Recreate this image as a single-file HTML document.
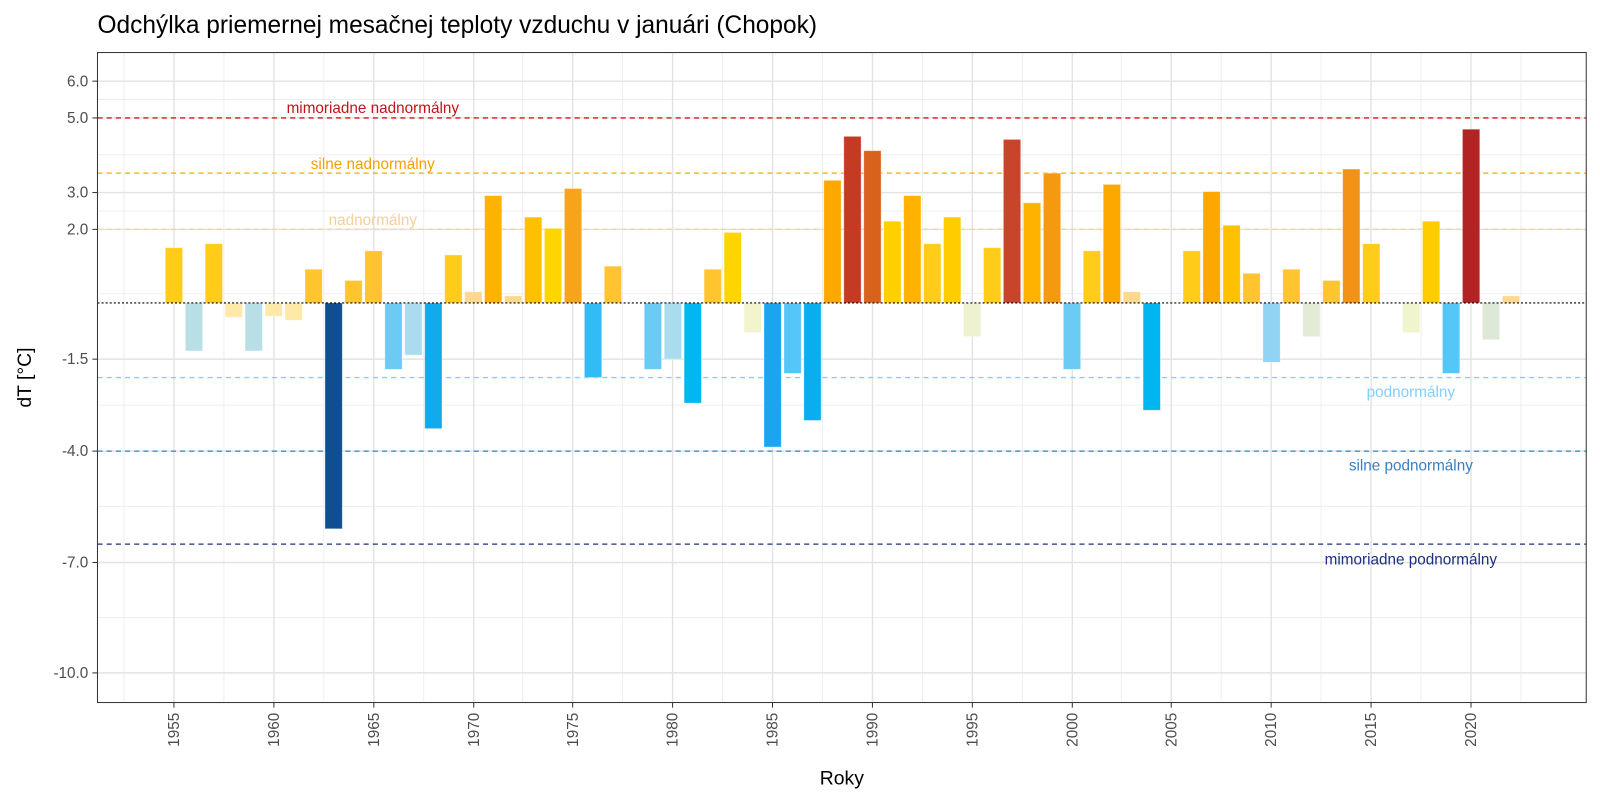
<!DOCTYPE html>
<html><head><meta charset="utf-8"><style>body{margin:0;background:#fff}svg{display:block;font-family:"Liberation Sans",Arial,sans-serif}</style></head>
<body>
<svg width="1600" height="800" xmlns="http://www.w3.org/2000/svg">
<rect width="1600" height="800" fill="#fff"/>
<g transform="matrix(1.0197 0 0 1.022 0.6 -0.6)">
<text x="95" y="33" font-size="24" fill="#000">Odchýlka priemernej mesačnej teploty vzduchu v januári (Chopok)</text>
<g stroke="#ebebeb" stroke-width="0.8">
<line x1="95" x2="1555" y1="98" y2="98"/><line x1="95" x2="1555" y1="152" y2="152"/><line x1="95" x2="1555" y1="207" y2="207"/><line x1="95" x2="1555" y1="288" y2="288"/><line x1="95" x2="1555" y1="397" y2="397"/><line x1="95" x2="1555" y1="496" y2="496"/><line x1="95" x2="1555" y1="605" y2="605"/>
<line y1="52" y2="688" x1="121" x2="121"/><line y1="52" y2="688" x1="219" x2="219"/><line y1="52" y2="688" x1="317" x2="317"/><line y1="52" y2="688" x1="415" x2="415"/><line y1="52" y2="688" x1="512" x2="512"/><line y1="52" y2="688" x1="610" x2="610"/><line y1="52" y2="688" x1="708" x2="708"/><line y1="52" y2="688" x1="806" x2="806"/><line y1="52" y2="688" x1="904" x2="904"/><line y1="52" y2="688" x1="1002" x2="1002"/><line y1="52" y2="688" x1="1099" x2="1099"/><line y1="52" y2="688" x1="1197" x2="1197"/><line y1="52" y2="688" x1="1295" x2="1295"/><line y1="52" y2="688" x1="1393" x2="1393"/><line y1="52" y2="688" x1="1491" x2="1491"/>
</g>
<g stroke="#e3e3e3" stroke-width="1.4">
<line x1="95" x2="1555" y1="80" y2="80"/><line x1="95" x2="1555" y1="116" y2="116"/><line x1="95" x2="1555" y1="189" y2="189"/><line x1="95" x2="1555" y1="225" y2="225"/><line x1="95" x2="1555" y1="352" y2="352"/><line x1="95" x2="1555" y1="442" y2="442"/><line x1="95" x2="1555" y1="551" y2="551"/><line x1="95" x2="1555" y1="659" y2="659"/>
<line y1="52" y2="688" x1="170" x2="170"/><line y1="52" y2="688" x1="268" x2="268"/><line y1="52" y2="688" x1="366" x2="366"/><line y1="52" y2="688" x1="464" x2="464"/><line y1="52" y2="688" x1="561" x2="561"/><line y1="52" y2="688" x1="659" x2="659"/><line y1="52" y2="688" x1="757" x2="757"/><line y1="52" y2="688" x1="855" x2="855"/><line y1="52" y2="688" x1="953" x2="953"/><line y1="52" y2="688" x1="1051" x2="1051"/><line y1="52" y2="688" x1="1148" x2="1148"/><line y1="52" y2="688" x1="1246" x2="1246"/><line y1="52" y2="688" x1="1344" x2="1344"/><line y1="52" y2="688" x1="1442" x2="1442"/>
</g>
<g stroke-width="1.3" stroke-dasharray="5,4" fill="none">
<line x1="95" x2="1555" y1="116" y2="116" stroke="#d7191c"/>
<line x1="95" x2="1555" y1="170" y2="170" stroke="#ffa500"/>
<line x1="95" x2="1555" y1="225" y2="225" stroke="#f8d3a8"/>
<line x1="95" x2="1555" y1="370" y2="370" stroke="#87cefa"/>
<line x1="95" x2="1555" y1="442" y2="442" stroke="#3182bd"/>
<line x1="95" x2="1555" y1="533" y2="533" stroke="#1f2f7f"/>
</g>
<g stroke="#fff" stroke-opacity="0.45" stroke-width="0.8">
<rect x="161.5" y="243" width="17" height="54" fill="#ffcc1a"/>
<rect x="181.1" y="297" width="17" height="47" fill="#b8dfe6"/>
<rect x="200.6" y="239" width="17" height="58" fill="#ffcc1a"/>
<rect x="220.2" y="297" width="17" height="14" fill="#ffe9a8"/>
<rect x="239.8" y="297" width="17" height="47" fill="#b8dfe6"/>
<rect x="259.4" y="297" width="17" height="13" fill="#ffe9a8"/>
<rect x="278.9" y="297" width="17" height="17" fill="#ffe9a8"/>
<rect x="298.5" y="264" width="17" height="33" fill="#ffc430"/>
<rect x="318.1" y="297" width="17" height="221" fill="#0f4f8f"/>
<rect x="337.6" y="275" width="17" height="22" fill="#ffc430"/>
<rect x="357.2" y="246" width="17" height="51" fill="#ffc430"/>
<rect x="376.8" y="297" width="17" height="65" fill="#6ccbf5"/>
<rect x="396.3" y="297" width="17" height="51" fill="#a8dcee"/>
<rect x="415.9" y="297" width="17" height="123" fill="#12aaea"/>
<rect x="435.5" y="250" width="17" height="47" fill="#ffcc1a"/>
<rect x="455.1" y="286" width="17" height="11" fill="#ffd890"/>
<rect x="474.6" y="192" width="17" height="105" fill="#ffb300"/>
<rect x="494.2" y="290" width="17" height="7" fill="#ffd890"/>
<rect x="513.8" y="213" width="17" height="84" fill="#ffc000"/>
<rect x="533.3" y="224" width="17" height="73" fill="#ffd500"/>
<rect x="552.9" y="185" width="17" height="112" fill="#f8a41a"/>
<rect x="572.5" y="297" width="17" height="73" fill="#33bbf5"/>
<rect x="592.0" y="261" width="17" height="36" fill="#ffc430"/>
<rect x="631.2" y="297" width="17" height="65" fill="#6ccbf5"/>
<rect x="650.8" y="297" width="17" height="55" fill="#a8dcee"/>
<rect x="670.3" y="297" width="17" height="98" fill="#00b8f0"/>
<rect x="689.9" y="264" width="17" height="33" fill="#ffc430"/>
<rect x="709.5" y="228" width="17" height="69" fill="#ffd500"/>
<rect x="729.0" y="297" width="17" height="29" fill="#f2f4cc"/>
<rect x="748.6" y="297" width="17" height="141" fill="#1aa5ee"/>
<rect x="768.2" y="297" width="17" height="69" fill="#55c6f8"/>
<rect x="787.7" y="297" width="17" height="115" fill="#0aaeee"/>
<rect x="807.3" y="177" width="17" height="120" fill="#fca800"/>
<rect x="826.9" y="134" width="17" height="163" fill="#c43a22"/>
<rect x="846.5" y="148" width="17" height="149" fill="#d8611c"/>
<rect x="866.0" y="217" width="17" height="80" fill="#ffd000"/>
<rect x="885.6" y="192" width="17" height="105" fill="#ffb300"/>
<rect x="905.2" y="239" width="17" height="58" fill="#ffcc1a"/>
<rect x="924.7" y="213" width="17" height="84" fill="#ffcc00"/>
<rect x="944.3" y="297" width="17" height="33" fill="#eef2cf"/>
<rect x="963.9" y="243" width="17" height="54" fill="#ffcc1a"/>
<rect x="983.4" y="137" width="17" height="160" fill="#c8442a"/>
<rect x="1003.0" y="199" width="17" height="98" fill="#ffb300"/>
<rect x="1022.6" y="170" width="17" height="127" fill="#f59a10"/>
<rect x="1042.2" y="297" width="17" height="65" fill="#6ccbf5"/>
<rect x="1061.7" y="246" width="17" height="51" fill="#ffcc1a"/>
<rect x="1081.3" y="181" width="17" height="116" fill="#fca800"/>
<rect x="1100.9" y="286" width="17" height="11" fill="#ffd890"/>
<rect x="1120.4" y="297" width="17" height="105" fill="#00b5f0"/>
<rect x="1159.6" y="246" width="17" height="51" fill="#ffcc1a"/>
<rect x="1179.1" y="188" width="17" height="109" fill="#fca800"/>
<rect x="1198.7" y="221" width="17" height="76" fill="#ffc000"/>
<rect x="1218.3" y="268" width="17" height="29" fill="#ffc430"/>
<rect x="1237.9" y="297" width="17" height="58" fill="#90d3f2"/>
<rect x="1257.4" y="264" width="17" height="33" fill="#ffc430"/>
<rect x="1277.0" y="297" width="17" height="33" fill="#e1ebd6"/>
<rect x="1296.6" y="275" width="17" height="22" fill="#ffc430"/>
<rect x="1316.1" y="166" width="17" height="131" fill="#f29216"/>
<rect x="1335.7" y="239" width="17" height="58" fill="#ffcc1a"/>
<rect x="1374.8" y="297" width="17" height="29" fill="#f2f4cc"/>
<rect x="1394.4" y="217" width="17" height="80" fill="#ffcc00"/>
<rect x="1414.0" y="297" width="17" height="69" fill="#55c6f8"/>
<rect x="1433.6" y="127" width="17" height="170" fill="#b22424"/>
<rect x="1453.1" y="297" width="17" height="36" fill="#dde9d6"/>
<rect x="1472.7" y="290" width="17" height="7" fill="#ffd890"/>
</g>
<line x1="95" x2="1555" y1="297" y2="297" stroke="#000" stroke-width="1" stroke-dasharray="2,2"/>
<g font-size="15" text-anchor="middle">
<text x="365" y="111" fill="#c0141c">mimoriadne nadnormálny</text>
<text x="365" y="166" fill="#f5a000">silne nadnormálny</text>
<text x="365" y="221" fill="#f5cf9f">nadnormálny</text>
<text x="1383" y="389" fill="#87cefa">podnormálny</text>
<text x="1383" y="461" fill="#3a7fc1">silne podnormálny</text>
<text x="1383" y="553" fill="#1a2f80">mimoriadne podnormálny</text>
</g>
<rect x="95" y="52" width="1460" height="636" fill="none" stroke="#333" stroke-width="1"/>
<g font-size="15" fill="#4d4d4d" text-anchor="end">
<text x="86" y="85">6.0</text><text x="86" y="121">5.0</text><text x="86" y="194">3.0</text><text x="86" y="230">2.0</text><text x="86" y="357">-1.5</text><text x="86" y="447">-4.0</text><text x="86" y="556">-7.0</text><text x="86" y="664">-10.0</text>
</g>
<g stroke="#333"><line x1="90" x2="95" y1="80" y2="80"/><line x1="90" x2="95" y1="116" y2="116"/><line x1="90" x2="95" y1="189" y2="189"/><line x1="90" x2="95" y1="225" y2="225"/><line x1="90" x2="95" y1="352" y2="352"/><line x1="90" x2="95" y1="442" y2="442"/><line x1="90" x2="95" y1="551" y2="551"/><line x1="90" x2="95" y1="659" y2="659"/></g>
<g stroke="#333">
<line x1="170" x2="170" y1="688" y2="693"/><line x1="268" x2="268" y1="688" y2="693"/><line x1="366" x2="366" y1="688" y2="693"/><line x1="464" x2="464" y1="688" y2="693"/><line x1="561" x2="561" y1="688" y2="693"/><line x1="659" x2="659" y1="688" y2="693"/><line x1="757" x2="757" y1="688" y2="693"/><line x1="855" x2="855" y1="688" y2="693"/><line x1="953" x2="953" y1="688" y2="693"/><line x1="1051" x2="1051" y1="688" y2="693"/><line x1="1148" x2="1148" y1="688" y2="693"/><line x1="1246" x2="1246" y1="688" y2="693"/><line x1="1344" x2="1344" y1="688" y2="693"/><line x1="1442" x2="1442" y1="688" y2="693"/>
</g>
<g font-size="15" fill="#4d4d4d" text-anchor="end">
<text transform="translate(175,698) rotate(-90)">1955</text>
<text transform="translate(273,698) rotate(-90)">1960</text>
<text transform="translate(371,698) rotate(-90)">1965</text>
<text transform="translate(469,698) rotate(-90)">1970</text>
<text transform="translate(566,698) rotate(-90)">1975</text>
<text transform="translate(664,698) rotate(-90)">1980</text>
<text transform="translate(762,698) rotate(-90)">1985</text>
<text transform="translate(860,698) rotate(-90)">1990</text>
<text transform="translate(958,698) rotate(-90)">1995</text>
<text transform="translate(1056,698) rotate(-90)">2000</text>
<text transform="translate(1153,698) rotate(-90)">2005</text>
<text transform="translate(1251,698) rotate(-90)">2010</text>
<text transform="translate(1349,698) rotate(-90)">2015</text>
<text transform="translate(1447,698) rotate(-90)">2020</text>
</g>
<text x="825" y="768" font-size="19" text-anchor="middle" fill="#000">Roky</text>
<text transform="translate(30,370) rotate(-90)" font-size="19" text-anchor="middle" fill="#000">dT [°C]</text>
</g>
</svg>
</body></html>
